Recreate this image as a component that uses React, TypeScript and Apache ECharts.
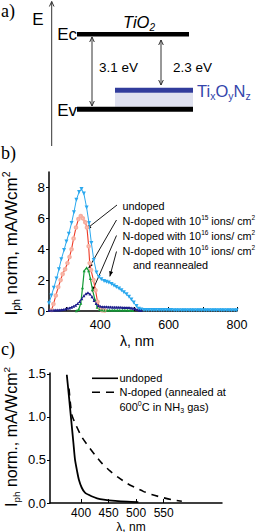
import React, { useEffect, useRef } from "react";
import * as echarts from "echarts";

const SANS = "'Liberation Sans', Arial, sans-serif";
const SERIF = "'Liberation Serif', 'Times New Roman', serif";

// ---------- panel b ----------
const bXTicks = [300, 400, 500, 600, 700, 800];
const bXLabels = [400, 600, 800];
const bYLabels = [0, 2, 4, 6, 8];

const reannealedX = [250, 257, 264, 272, 279, 286, 294, 301, 308, 316, 323, 330, 338, 345, 352, 360, 367, 374, 381, 389, 396, 403, 411, 418, 425, 433, 440, 447, 455, 462, 469, 477, 484, 491, 498, 506, 513, 520, 528, 535, 542, 550, 557, 564, 572, 579, 586, 594, 601, 608, 616, 623, 630, 638, 645, 652, 660, 667, 674, 682, 689, 696, 704, 711, 718, 726, 733, 740, 748, 755, 762, 770, 777, 784, 792, 799];
const reannealedY = [0.5, 1.0, 1.5, 2.1, 2.7, 3.35, 3.95, 4.5, 5.0, 5.7, 6.4, 7.2, 7.7, 7.9, 7.6, 6.7, 5.7, 4.4, 3.3, 2.5, 2.2, 2.05, 1.95, 1.9, 1.85, 1.75, 1.65, 1.55, 1.45, 1.35, 1.22, 1.08, 0.92, 0.75, 0.55, 0.32, 0.15, 0.09, 0.07, 0.07, 0.06, 0.06, 0.06, 0.06, 0.06, 0.06, 0.06, 0.06, 0.06, 0.06, 0.05, 0.05, 0.05, 0.05, 0.05, 0.05, 0.05, 0.05, 0.05, 0.05, 0.05, 0.05, 0.05, 0.05, 0.05, 0.05, 0.05, 0.05, 0.05, 0.05, 0.05, 0.05, 0.05, 0.05, 0.05, 0.05];

const undopedX = [258, 263, 270, 277, 284, 290, 297, 304, 310, 316, 322, 329, 336, 343, 349, 356, 361, 366, 369, 373, 380, 386, 392, 399, 406, 413];
const undopedY = [0.07, 0.45, 1.0, 1.55, 2.0, 2.4, 2.7, 3.1, 3.5, 4.0, 4.7, 5.4, 5.95, 6.15, 6.0, 5.75, 5.4, 4.2, 3.1, 2.65, 2.0, 1.35, 0.6, 0.17, 0.05, 0.03];

const dose15X = [330, 337, 343, 348, 353, 360, 366, 371, 377, 384, 391, 398, 405, 412, 420, 427, 435, 442, 450, 457, 465, 472, 480, 487, 495];
const dose15Y = [0.02, 0.1, 0.5, 1.5, 2.6, 2.8, 2.6, 2.1, 1.4, 0.75, 0.25, 0.1, 0.06, 0.05, 0.05, 0.05, 0.05, 0.05, 0.05, 0.05, 0.05, 0.05, 0.05, 0.04, 0.04];

const dose16X = [250, 256, 262, 268, 274, 280, 286, 292, 298, 304, 310, 316, 322, 328, 334, 340, 346, 352, 358, 364, 370, 376, 382, 388, 394, 400, 406, 412, 418, 424, 430, 436, 442, 448, 454, 460, 466, 472, 478, 484, 490, 496, 502, 508, 514, 520];
const dose16Y = [0.05, 0.05, 0.05, 0.06, 0.06, 0.07, 0.08, 0.1, 0.13, 0.17, 0.2, 0.25, 0.3, 0.38, 0.48, 0.62, 0.8, 0.98, 1.12, 1.18, 1.1, 0.92, 0.68, 0.48, 0.35, 0.3, 0.28, 0.27, 0.27, 0.26, 0.26, 0.25, 0.25, 0.25, 0.24, 0.24, 0.23, 0.23, 0.22, 0.22, 0.2, 0.18, 0.14, 0.09, 0.05, 0.03];

const bLegend = [
  "undoped",
  "N-doped with 10{sup|15} ions/ cm{sup|2}",
  "N-doped with 10{sup|16} ions/ cm{sup|2}",
  "N-doped with 10{sup|16} ions/ cm{sup|2}",
  "and reannealed",
];
// arrow targets (data coordinates) for legend arrows
const bArrowTargets = [
  [359, 5.3],
  [366, 2.77],
  [376, 1.25],
  [428, 2.24],
];

// ---------- panel c ----------
const cXLabels = [400, 450, 500, 550];
const cYLabels = [0, 0.5, 1, 1.5];
const cUndopedX = [374, 377, 380, 383, 386, 389, 393, 396, 401, 407, 419, 429, 441, 462, 484, 504];
const cUndopedY = [1.49, 1.3, 1.1, 0.9, 0.7, 0.5, 0.36, 0.27, 0.18, 0.12, 0.078, 0.055, 0.04, 0.025, 0.015, 0.01];
const cNdopedX = [378, 383, 391, 401, 413, 425, 438, 453, 467, 483, 498, 513, 528, 544, 564, 583];
const cNdopedY = [1.33, 1.03, 0.9, 0.77, 0.66, 0.56, 0.46, 0.37, 0.3, 0.23, 0.18, 0.135, 0.1, 0.07, 0.04, 0.02];

const zip = (xs: number[], ys: number[]) =>
  xs.slice(0, Math.min(xs.length, ys.length)).map((x, i) => [x, ys[i]]);

function headPoly(x1: number, y1: number, x2: number, y2: number, len = 5, w = 2.2) {
  const dx = x2 - x1, dy = y2 - y1;
  const L = Math.hypot(dx, dy) || 1;
  const ux = dx / L, uy = dy / L;
  const bx = x2 - ux * len, by = y2 - uy * len;
  return {
    type: "polygon",
    silent: true,
    shape: { points: [[x2, y2], [bx - uy * w, by + ux * w], [bx + uy * w, by - ux * w]] },
    style: { fill: "#000" },
  };
}

function vHead(x: number, y: number, dir: number, color = "#333") {
  return {
    type: "polyline",
    silent: true,
    shape: { points: [[x - 2.3, y - dir * 5], [x, y], [x + 2.3, y - dir * 5]] },
    style: { stroke: color, lineWidth: 1, fill: "none" },
  };
}

function txt(x: number, y: number, text: string, extra: any = {}, rich: any = undefined, rot = 0) {
  const style: any = {
    text,
    fill: extra.fill || "#000",
    fontSize: extra.fontSize || 13,
    fontFamily: extra.fontFamily || SANS,
    fontStyle: extra.fontStyle || "normal",
    align: extra.align || "left",
    textAlign: extra.align || "left",
    verticalAlign: "middle",
    textVerticalAlign: "middle",
  };
  if (extra.lineHeight) style.lineHeight = extra.lineHeight;
  if (rich) style.rich = rich;
  return { type: "text", silent: true, x, y, rotation: rot, style };
}

export default function App() {
  const ref = useRef<HTMLDivElement>(null);
  useEffect(() => {
    const chart = echarts.init(ref.current!, null, { renderer: "svg" });
    const axisLine = { show: true, onZero: false, lineStyle: { color: "#000", width: 1.5 } };
    const option: any = {
      animation: false,
      backgroundColor: "#fff",
      grid: [
        { left: 49, top: 172, width: 188, height: 139, outerBoundsMode: "none" },
        { left: 50, top: 373, width: 172, height: 130, outerBoundsMode: "none" },
      ],
      xAxis: [
        {
          gridIndex: 0, type: "value", min: 250, max: 800,
          axisLine,
          axisTick: { show: true, inside: true, length: 4, lineStyle: { color: "#000", width: 1 }, customValues: bXTicks },
          axisLabel: { customValues: bXLabels, color: "#000", fontSize: 12.5, fontFamily: SANS, margin: 7 },
          splitLine: { show: false },
        },
        {
          gridIndex: 1, type: "value", min: 343.5, max: 656,
          axisLine,
          axisTick: { show: true, inside: true, length: 4, lineStyle: { color: "#000", width: 1 }, customValues: cXLabels },
          axisLabel: { customValues: cXLabels, color: "#000", fontSize: 12, fontFamily: SANS, margin: 4 },
          splitLine: { show: false },
        },
      ],
      yAxis: [
        {
          gridIndex: 0, type: "value", min: 0, max: 9,
          axisLine,
          axisTick: { show: true, inside: false, length: 3, lineStyle: { color: "#000", width: 1 }, customValues: bYLabels },
          axisLabel: { customValues: bYLabels, color: "#000", fontSize: 13.5, fontFamily: SANS, margin: 4 },
          splitLine: { show: false },
        },
        {
          gridIndex: 1, type: "value", min: 0, max: 1.51,
          axisLine,
          axisTick: { show: true, inside: false, length: 3, lineStyle: { color: "#000", width: 1 }, customValues: cYLabels },
          axisLabel: {
            customValues: cYLabels, color: "#000", fontSize: 13, fontFamily: SANS, margin: 4,
            formatter: (v: number) => v.toFixed(1),
          },
          splitLine: { show: false },
        },
      ],
      series: [
        {
          name: "N-doped 1e16 reannealed", type: "line", xAxisIndex: 0, yAxisIndex: 0,
          data: zip(reannealedX, reannealedY),
          symbol: "triangle", symbolRotate: 180, symbolSize: 4,
          lineStyle: { color: "#2aa8ee", width: 1 }, itemStyle: { color: "#2aa8ee" },
        },
        {
          name: "undoped", type: "line", xAxisIndex: 0, yAxisIndex: 0,
          data: zip(undopedX, undopedY),
          symbol: "emptyCircle", symbolSize: 2.6,
          lineStyle: { color: "#ee3a26", width: 1.1 }, itemStyle: { color: "#f7ae9f", borderWidth: 0.7 },
        },
        {
          name: "N-doped 1e15", type: "line", xAxisIndex: 0, yAxisIndex: 0,
          data: zip(dose15X, dose15Y),
          symbol: "triangle", symbolSize: 3,
          lineStyle: { color: "#139a36", width: 1.2 }, itemStyle: { color: "#139a36" },
        },
        {
          name: "N-doped 1e16", type: "line", xAxisIndex: 0, yAxisIndex: 0,
          data: zip(dose16X, dose16Y),
          symbol: "triangle", symbolSize: 3,
          lineStyle: { color: "#1c1c8c", width: 1 }, itemStyle: { color: "#1c1c8c" },
        },
        {
          name: "c undoped", type: "line", xAxisIndex: 1, yAxisIndex: 1,
          data: zip(cUndopedX, cUndopedY), symbol: "none", smooth: 0.2,
          lineStyle: { color: "#000", width: 1.8 },
        },
        {
          name: "c N-doped", type: "line", xAxisIndex: 1, yAxisIndex: 1,
          data: zip(cNdopedX, cNdopedY), symbol: "none", smooth: 0.2,
          lineStyle: { color: "#000", width: 1.6, type: [7, 6] },
        },
      ],
    };
    chart.setOption(option);

    const g: any[] = [];
    // ---------- panel a ----------
    g.push(txt(1, 11, "a)", { fontFamily: SERIF, fontSize: 18 }));
    g.push(txt(38, 19, "E", { fontFamily: SANS, fontSize: 17, align: "center" }));
    g.push({ type: "line", silent: true, shape: { x1: 51.7, y1: 1.5, x2: 51.7, y2: 146 }, style: { stroke: "#333", lineWidth: 1 } });
    g.push(vHead(51.7, 1.5, -1));
    g.push(txt(77, 34, "Ec", { fontFamily: SANS, fontSize: 17, align: "right" }));
    g.push(txt(77, 110, "Ev", { fontFamily: SANS, fontSize: 17, align: "right" }));
    g.push({ type: "rect", silent: true, shape: { x: 77, y: 32, width: 112, height: 4.5 }, style: { fill: "#000" } });
    g.push({ type: "rect", silent: true, shape: { x: 115, y: 92.7, width: 78, height: 14 }, style: { fill: "#dfe1ef" } });
    g.push({ type: "rect", silent: true, shape: { x: 115, y: 87.7, width: 78, height: 5 }, style: { fill: "#313c9c" } });
    g.push({ type: "rect", silent: true, shape: { x: 77, y: 106.7, width: 116, height: 5 }, style: { fill: "#000" } });
    g.push(txt(123, 22, "TiO{sub|2}", { fontFamily: SANS, fontSize: 16.5, fontStyle: "italic", lineHeight: 20 }, {
      sub: { fontFamily: SANS, fontSize: 10, fontStyle: "italic", lineHeight: 10, verticalAlign: "bottom", fill: "#000" },
    }));
    g.push({ type: "line", silent: true, shape: { x1: 92, y1: 37, x2: 92, y2: 106 }, style: { stroke: "#333", lineWidth: 1 } });
    g.push(vHead(92, 37, -1));
    g.push(vHead(92, 106, 1));
    g.push(txt(99, 67.5, "3.1 eV", { fontFamily: SANS, fontSize: 13.5 }));
    g.push({ type: "line", silent: true, shape: { x1: 161, y1: 40, x2: 161, y2: 85 }, style: { stroke: "#333", lineWidth: 1 } });
    g.push(vHead(161, 40, -1));
    g.push(vHead(161, 85, 1));
    g.push(txt(173, 67.5, "2.3 eV", { fontFamily: SANS, fontSize: 13.5 }));
    g.push(txt(197, 91, "Ti{sub|x}O{sub|y}N{sub|z}", { fontFamily: SANS, fontSize: 16.5, fill: "#3445ab", lineHeight: 20 }, {
      sub: { fontFamily: SANS, fontSize: 10.5, lineHeight: 10.5, verticalAlign: "bottom", fill: "#3445ab" },
    }));

    // ---------- panel b ----------
    g.push(txt(1, 153, "b)", { fontFamily: SERIF, fontSize: 18 }));
    const nameRich = (fs: number) => ({
      sub: { fontFamily: SANS, fontSize: fs * 0.62, lineHeight: fs * 0.62, verticalAlign: "bottom", fill: "#000" },
      sup: { fontFamily: SANS, fontSize: fs * 0.62, lineHeight: fs * 0.62, verticalAlign: "top", fill: "#000" },
    });
    g.push(txt(11, 243.5, "I{sub|ph} norm, mA/Wcm{sup|2}", { fontFamily: SANS, fontSize: 17, align: "center", lineHeight: 21 }, nameRich(17), Math.PI / 2));
    g.push(txt(137, 341, "λ, nm", { fontFamily: SANS, fontSize: 14, align: "center" }));
    const legRich = {
      sup: { fontFamily: SANS, fontSize: 6.5, lineHeight: 7, verticalAlign: "top", fill: "#000" },
    };
    const legY = [205.5, 220.5, 235.5, 250.5, 264.5];
    bLegend.forEach((t, i) => {
      g.push(txt(i === 4 ? 133 : 122.5, legY[i], t, { fontFamily: SANS, fontSize: 10.8, lineHeight: 13 }, legRich));
    });
    const arrowStarts = [
      [117, 205],
      [116.5, 220],
      [116.5, 235.5],
      [116.5, 251.5],
    ];
    bArrowTargets.forEach((t, i) => {
      const p = chart.convertToPixel({ xAxisIndex: 0, yAxisIndex: 0 } as any, t) as number[];
      const [sx, sy] = arrowStarts[i];
      g.push({ type: "line", silent: true, shape: { x1: sx, y1: sy, x2: p[0], y2: p[1] }, style: { stroke: "#000", lineWidth: 0.9 } });
      g.push(headPoly(sx, sy, p[0], p[1], 5, 2));
    });

    // ---------- panel c ----------
    g.push(txt(1, 349, "c)", { fontFamily: SERIF, fontSize: 18 }));
    g.push(txt(11, 437, "I{sub|ph} norm., mA/Wcm{sup|2}", { fontFamily: SANS, fontSize: 16, align: "center", lineHeight: 20 }, nameRich(16), Math.PI / 2));
    g.push(txt(131, 526.5, "λ, nm", { fontFamily: SANS, fontSize: 12, align: "center" }));
    g.push({ type: "line", silent: true, shape: { x1: 92, y1: 378.3, x2: 118, y2: 378.3 }, style: { stroke: "#000", lineWidth: 1.6 } });
    g.push({ type: "line", silent: true, shape: { x1: 92, y1: 392.3, x2: 118, y2: 392.3 }, style: { stroke: "#000", lineWidth: 1.6, lineDash: [8, 6] } });
    const cRich = {
      sup: { fontFamily: SANS, fontSize: 7, lineHeight: 7, verticalAlign: "top", fill: "#000" },
      sub: { fontFamily: SANS, fontSize: 7, lineHeight: 7, verticalAlign: "bottom", fill: "#000" },
    };
    g.push(txt(119.5, 378.3, "undoped", { fontSize: 11, lineHeight: 14 }, cRich));
    g.push(txt(119.5, 392.3, "N-doped (annealed at", { fontSize: 11, lineHeight: 14 }, cRich));
    g.push(txt(119.5, 406.7, "600{sup|0}C in NH{sub|3} gas)", { fontSize: 11, lineHeight: 14 }, cRich));

    chart.setOption({ graphic: { elements: g } });
    return () => chart.dispose();
  }, []);
  return <div ref={ref} style={{ position: "absolute", left: 0, top: 0, width: 260, height: 532 }} />;
}
